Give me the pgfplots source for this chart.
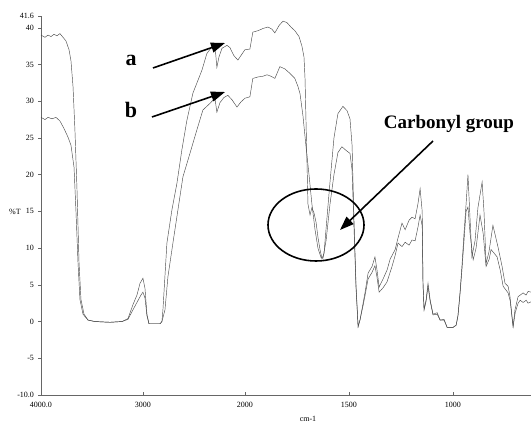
\documentclass[border=0pt]{standalone}
\usepackage{pgfplots}
\pgfplotsset{compat=1.18}
\usepackage{pgfplotstable}
\usepackage{fontspec}
\setmainfont{Liberation Serif}
\usetikzlibrary{arrows.meta}

% FTIR spectra: wavenumber (cm-1) and transmittance (%T)
\pgfplotstableread{
w T
4000 39.0
3961 38.7
3931 39.0
3902 38.8
3873 39.1
3843 38.9
3814 39.2
3784 38.7
3755 38.2
3725 37.0
3706 35.5
3686 32.0
3667 26.0
3647 18.0
3627 8.0
3608 3.0
3578 1.0
3539 0.2
3471 0.0
3324 -0.1
3206 0.0
3147 0.4
3098 2.3
3059 3.6
3029 5.2
3000 5.9
2980 4.5
2961 1.0
2941 -0.3
2833 -0.3
2814 0.0
2804 1.6
2765 10.7
2716 15.2
2667 18.8
2618 23.4
2569 27.4
2510 31.1
2422 34.2
2373 36.5
2324 37.4
2294 37.6
2275 34.6
2255 36.0
2225 37.2
2176 37.6
2147 37.3
2108 36.2
2069 35.6
2020 36.6
2000 37.0
1976 37.1
1962 39.4
1937 39.6
1913 39.9
1889 40.1
1870 39.8
1856 39.3
1836 40.3
1817 40.9
1798 40.7
1779 40.1
1760 39.6
1740 38.8
1726 37.5
1716 36.0
1711 33.0
1707 28.0
1702 22.0
1697 16.0
1687 14.5
1678 15.5
1668 14.8
1658 13.5
1649 11.5
1639 9.8
1630 8.6
1620 9.2
1606 14.0
1591 19.0
1572 25.0
1553 28.3
1529 29.3
1509 28.7
1495 27.6
1485 24.0
1476 14.0
1466 5.0
1456 -0.7
1447 0.2
1432 2.5
1423 3.9
1408 6.6
1389 7.5
1375 8.8
1365 7.0
1355 4.7
1336 5.8
1317 7.0
1302 8.5
1278 9.8
1264 11.4
1245 13.4
1230 12.5
1211 13.8
1197 14.2
1182 14.0
1168 16.1
1158 18.1
1148 15.0
1144 5.2
1139 1.6
1129 3.0
1120 5.2
1110 3.0
1096 1.0
1076 1.2
1062 0.2
1043 0.3
1028 -0.8
1000 -0.8
985 -0.5
976 0.8
966 4.0
957 7.5
947 12.0
937 16.0
928 20.0
918 14.0
909 8.8
894 11.0
880 15.5
860 19.0
851 15.0
841 7.9
827 9.5
808 13.1
784 10.2
764 7.5
750 5.2
735 4.8
726 3.4
716 0.6
711 -0.7
702 1.6
687 3.4
677 3.6
663 3.9
649 3.6
639 4.1
624 4.0
}\specA

\pgfplotstableread{
w T
4000 27.8
3961 27.5
3931 27.8
3892 27.6
3853 27.8
3814 27.3
3775 26.3
3735 25.1
3706 24.0
3676 21.0
3657 15.0
3637 8.0
3618 3.0
3588 1.0
3539 0.2
3471 0.0
3324 -0.1
3206 0.0
3147 0.3
3098 1.6
3059 2.6
3020 3.6
3000 4.0
2980 3.2
2961 0.8
2941 -0.3
2833 -0.3
2814 0.0
2784 1.6
2755 6.1
2706 10.7
2657 15.2
2608 19.7
2539 22.9
2471 26.1
2412 28.8
2343 29.7
2294 30.4
2275 28.5
2245 29.8
2206 30.5
2167 30.8
2127 30.2
2078 29.2
2039 29.9
2000 30.4
1976 30.6
1962 33.1
1937 33.3
1913 33.4
1894 33.6
1875 33.4
1856 33.1
1832 34.7
1808 34.4
1784 33.8
1760 33.1
1745 32.0
1735 31.0
1721 28.0
1707 24.0
1692 20.0
1678 16.0
1663 12.5
1649 10.0
1634 8.7
1625 8.6
1610 11.0
1591 16.0
1572 20.0
1553 23.0
1534 23.8
1514 23.3
1495 22.9
1485 20.6
1476 13.0
1466 4.5
1456 -0.7
1447 0.2
1432 2.2
1423 3.5
1408 5.8
1389 6.7
1375 7.6
1365 6.0
1355 4.0
1336 4.6
1317 5.4
1293 7.5
1278 9.0
1264 10.7
1245 10.2
1230 10.8
1211 10.4
1197 11.1
1182 11.0
1168 12.9
1158 14.5
1148 13.0
1144 5.0
1139 1.6
1129 2.8
1120 4.8
1110 2.8
1096 0.9
1076 1.0
1062 0.2
1043 0.2
1028 -0.8
1000 -0.8
985 -0.5
976 0.8
966 3.8
957 7.0
947 11.0
937 15.0
928 15.6
918 12.0
903 8.4
889 10.0
870 14.5
855 12.0
841 7.5
826 8.5
817 9.8
802 9.3
788 8.8
773 7.0
759 4.8
735 3.9
725 2.8
716 0.5
711 -0.7
701 1.2
687 2.5
677 2.9
663 2.6
648 2.9
639 2.5
624 2.7
}\specB

\begin{document}
\begin{tikzpicture}[x=1pt,y=1pt]
\useasboundingbox (0,0) rectangle (531,425);
\begin{axis}[
  at={(41pt,30pt)}, anchor=south west,
  scale only axis, width=490pt, height=379pt,
  xmin=0, xmax=4.806, ymin=-10, ymax=41.6,
  axis lines=left,
  axis line style={-, black!60, line width=0.5pt},
  % the wavenumber scale is expanded twofold below 2000 cm-1
  xtick={0,1,2,3.0204,4.0408},
  xticklabels={4000.0,3000,2000,1500,1000},
  ytick={-10,-5,0,5,10,15,20,25,30,35,40,41.6},
  yticklabels={-10.0,-5,0,5,10,15,20,25,30,35,40,41.6},
  tick style={black!60, line width=0.4pt},
  major tick length=2.5pt,
  xtick align=inside,
  ytick align=outside,
  tick label style={font=\fontsize{8}{9}\selectfont},
  xticklabel style={yshift=-4pt},
  yticklabel style={xshift=-1pt},
  /pgf/number format/assume math mode=true,
  clip=true,
]
\addplot[black!70, line width=0.45pt] table[
  x expr={\thisrow{w}>=2000 ? (4000-\thisrow{w})/1000 : 2+(2000-\thisrow{w})/490},
  y=T] {\specA};
\addplot[black!70, line width=0.45pt] table[
  x expr={\thisrow{w}>=2000 ? (4000-\thisrow{w})/1000 : 2+(2000-\thisrow{w})/490},
  y=T] {\specB};
\end{axis}

% axis titles
\node[anchor=base, font=\fontsize{8}{9}\selectfont] at (15,210) {\%T};
\node[anchor=base, font=\fontsize{8}{9}\selectfont] at (308,3) {cm-1};

% curve labels and pointers
\node[anchor=base, font=\bfseries\fontsize{22}{24}\selectfont] at (131,359) {a};
\node[anchor=base, font=\bfseries\fontsize{22}{24}\selectfont] at (131,307) {b};
\draw[line width=1.6pt, -{Triangle[length=14pt,width=10pt]}] (153,357) -- (225,382);
\draw[line width=1.6pt, -{Triangle[length=14pt,width=10pt]}] (152,308) -- (225,333);

% carbonyl band
\draw[line width=1.6pt] (316,200) ellipse [x radius=48, y radius=36];
\node[anchor=base, font=\bfseries\fontsize{19}{21}\selectfont] at (449,296) {Carbonyl group};
\draw[line width=1.6pt, -{Triangle[length=14pt,width=10pt]}] (433,284) -- (340,195);
\end{tikzpicture}
\end{document}
